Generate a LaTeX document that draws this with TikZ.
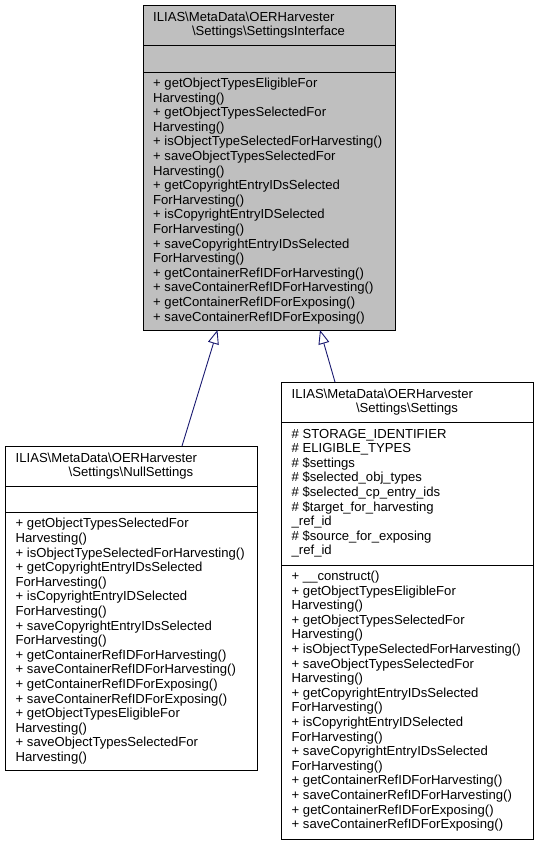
\documentclass[tikz,border=0pt]{standalone}
\usepackage{fontspec}
\setmainfont{Liberation Sans}
\usetikzlibrary{arrows.meta}
\definecolor{edgeblue}{RGB}{25,25,112}
\definecolor{basegray}{RGB}{191,191,191}
\begin{document}
\begin{tikzpicture}[x=1pt,y=-1pt,
  field/.style={draw,line width=0.9pt,anchor=north west,inner sep=0pt,minimum width=252pt},
  member/.style={anchor=base west,inner sep=0pt,font=\fontsize{13.1}{14.6}\selectfont},
  classtitle/.style={anchor=base,inner sep=0pt,font=\fontsize{13.1}{14.6}\selectfont},
  inherits/.style={draw=edgeblue,line width=0.9pt,-{Triangle[open,length=14pt,width=11pt]}}]
\useasboundingbox (0,0) rectangle (539,844);
% interface
\node[field,fill=basegray,minimum height=40.2pt] (iface title) at (142.5,5) {};
\node[field,fill=basegray,minimum height=26.5pt] (iface attr) at (142.5,45.2) {};
\node[field,fill=basegray,minimum height=258.3pt] (iface meth) at (142.5,71.7) {};
\node[member] (iface t1) at (153,21) {ILIAS\textbackslash MetaData\textbackslash OERHarvester};
\node[classtitle] (iface t2) at (268.5,35.6) {\textbackslash Settings\textbackslash SettingsInterface};
\foreach \m [count=\i] in {{+ getObjectTypesEligibleFor},{Harvesting()},
  {+ getObjectTypesSelectedFor},{Harvesting()},{+ isObjectTypeSelectedForHarvesting()},
  {+ saveObjectTypesSelectedFor},{Harvesting()},{+ getCopyrightEntryIDsSelected},
  {ForHarvesting()},{+ isCopyrightEntryIDSelected},{ForHarvesting()},
  {+ saveCopyrightEntryIDsSelected},{ForHarvesting()},{+ getContainerRefIDForHarvesting()},
  {+ saveContainerRefIDForHarvesting()},{+ getContainerRefIDForExposing()},
  {+ saveContainerRefIDForExposing()}}
  \node[member] (iface m\i) at (153,{87.5+14.6*(\i-1)}) {\m};
% null settings
\node[field,minimum height=40.2pt] (null title) at (5,446) {};
\node[field,minimum height=25.8pt] (null attr) at (5,486.2) {};
\node[field,minimum height=258.3pt] (null meth) at (5,512) {};
\node[member] (null t1) at (15.5,462) {ILIAS\textbackslash MetaData\textbackslash OERHarvester};
\node[classtitle] (null t2) at (131,476.6) {\textbackslash Settings\textbackslash NullSettings};
\foreach \m [count=\i] in {{+ getObjectTypesSelectedFor},{Harvesting()},
  {+ isObjectTypeSelectedForHarvesting()},{+ getCopyrightEntryIDsSelected},
  {ForHarvesting()},{+ isCopyrightEntryIDSelected},{ForHarvesting()},
  {+ saveCopyrightEntryIDsSelected},{ForHarvesting()},{+ getContainerRefIDForHarvesting()},
  {+ saveContainerRefIDForHarvesting()},{+ getContainerRefIDForExposing()},
  {+ saveContainerRefIDForExposing()},{+ getObjectTypesEligibleFor},{Harvesting()},
  {+ saveObjectTypesSelectedFor},{Harvesting()}}
  \node[member] (null m\i) at (15.5,{527.8+14.6*(\i-1)}) {\m};
% settings
\node[field,minimum height=40.2pt] (set title) at (281,382) {};
\node[field,minimum height=142.4pt] (set attr) at (281,422.2) {};
\node[field,minimum height=274pt] (set meth) at (281,564.6) {};
\node[member] (set t1) at (291.5,398) {ILIAS\textbackslash MetaData\textbackslash OERHarvester};
\node[classtitle] (set t2) at (407,412.6) {\textbackslash Settings\textbackslash Settings};
\foreach \a [count=\i] in {{\# STORAGE\_IDENTIFIER},{\# ELIGIBLE\_TYPES},{\# \$settings},
  {\# \$selected\_obj\_types},{\# \$selected\_cp\_entry\_ids},{\# \$target\_for\_harvesting},
  {\_ref\_id},{\# \$source\_for\_exposing},{\_ref\_id}}
  \node[member] (set a\i) at (291.5,{438+14.6*(\i-1)}) {\a};
\foreach \m [count=\i] in {{+ \_\_construct()},{+ getObjectTypesEligibleFor},{Harvesting()},
  {+ getObjectTypesSelectedFor},{Harvesting()},{+ isObjectTypeSelectedForHarvesting()},
  {+ saveObjectTypesSelectedFor},{Harvesting()},{+ getCopyrightEntryIDsSelected},
  {ForHarvesting()},{+ isCopyrightEntryIDSelected},{ForHarvesting()},
  {+ saveCopyrightEntryIDsSelected},{ForHarvesting()},{+ getContainerRefIDForHarvesting()},
  {+ saveContainerRefIDForHarvesting()},{+ getContainerRefIDForExposing()},
  {+ saveContainerRefIDForExposing()}}
  \node[member] (set m\i) at (291.5,{580.4+14.6*(\i-1)}) {\m};
% inheritance
\coordinate (iface out1) at (217.5,330);
\coordinate (iface out2) at (320,330);
\coordinate (null in) at (182,446);
\coordinate (set in) at (335,382);
\draw[inherits] (null in) -- (iface out1);
\draw[inherits] (set in) -- (iface out2);
\end{tikzpicture}
\end{document}
